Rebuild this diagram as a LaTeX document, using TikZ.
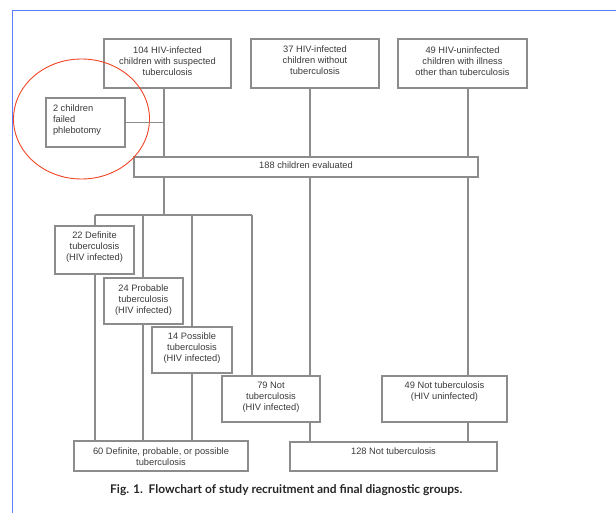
\documentclass[tikz,border=0pt]{standalone}
\usepackage{fontspec}
\setmainfont{Liberation Sans}
\newfontfamily\capfont{Lato}
\usepackage{graphicx}
\definecolor{linegray}{HTML}{8C8C8C}
\definecolor{textgray}{HTML}{3A3A3A}
\definecolor{frameblue}{HTML}{5C7CFF}
\definecolor{circred}{HTML}{F04424}
\newcommand\bt[4][6]{\parbox[c][#3pt][t]{#2pt}{\centering\vspace*{#1pt}\rule{0pt}{7pt}#4}}
\newcommand\btl[4][7]{\parbox[c][#3pt][t]{#2pt}{\raggedright\leftskip=7pt\vspace*{#1pt}\rule{0pt}{7pt}#4}}
\tikzset{
  bx/.style={draw=linegray, line width=1.1pt, inner sep=0pt, outer sep=0pt, anchor=north west,
    text=textgray, font=\fontsize{9.3}{11}\selectfont},
  ln/.style={draw=linegray, line width=1.1pt},
}
\begin{document}
\begin{tikzpicture}[x=1pt,y=-1pt]
\useasboundingbox (0,0) rectangle (616,513);
% frame
\draw[frameblue, line width=1.6pt] (616,10.5) -- (12.5,10.5) -- (12.5,513);
% top boxes
\node[bx] (A) at (104,39) {\bt[7.5]{127}{49}{104 HIV-infected\\children with suspected\\tuberculosis}};
\node[bx] (B) at (251,39) {\bt[7]{128}{49}{37 HIV-infected\\children without\\tuberculosis}};
\node[bx] (C) at (398,39) {\bt[7.5]{129}{49}{49 HIV-uninfected\\children with illness\\other than tuberculosis}};
\node[bx] (P) at (46,98) {\btl[7]{79}{49}{2 children\\failed\\phlebotomy}};
\node[bx] (E) at (134,157) {\bt[5]{344}{20}{188 children evaluated}};
% diagnostic boxes
\node[bx] (D22) at (55,226) {\bt{79}{48}{22 Definite\\tuberculosis\\(HIV infected)}};
\node[bx] (D24) at (104,278) {\bt{79}{46}{24 Probable\\tuberculosis\\(HIV infected)}};
\node[bx] (D14) at (152,327) {\bt[5.5]{80}{46}{14 Possible\\tuberculosis\\(HIV infected)}};
\node[bx] (N79) at (222,376) {\bt[5.5]{98}{46}{79 Not\\tuberculosis\\(HIV infected)}};
\node[bx] (N49) at (382,376) {\bt[5.5]{125}{46}{49 Not tuberculosis\\(HIV uninfected)}};
\node[bx] (F60) at (74,441) {\bt[6]{174}{30}{60 Definite, probable, or possible\\tuberculosis}};
\node[bx] (T128) at (290,442) {\bt[5.5]{207}{29}{128 Not tuberculosis}};
% caption
\node[anchor=west, inner sep=0pt, text=black!85] (cap) at (110,490)
  {\resizebox{352pt}{!}{\capfont\bfseries Fig. 1.\ \ Flowchart of study recruitment and final diagnostic groups.}};
% red circle
\draw[circred, line width=0.9pt] (81.5,119) ellipse [x radius=68pt, y radius=60pt];
% connector positions
\coordinate (xA) at (164,0);
\coordinate (xB) at (310,0);
\coordinate (xC) at (468,0);
\coordinate (xL) at (252,0);
\coordinate (J) at (164,215);
\coordinate (Jl) at (95,215);
\coordinate (Jm) at (143,215);
\coordinate (Jn) at (192,215);
\coordinate (Jr) at (252,215);
% connectors
\draw[ln] (A.south -| xA) -- (E.north -| xA);
\draw[ln] (P.east) -- (P.east -| xA);
\draw[ln] (B.south -| xB) -- (E.north -| xB);
\draw[ln] (C.south -| xC) -- (E.north -| xC);
\draw[ln] (E.south -| xA) -- (J);
\draw[ln] (Jl) -- (Jr);
\draw[ln] (Jl) -- (D22.north -| Jl);
\draw[ln] (D22.south -| Jl) -- (F60.north -| Jl);
\draw[ln] (Jm) -- (D24.north -| Jm);
\draw[ln] (D24.south -| Jm) -- (F60.north -| Jm);
\draw[ln] (Jn) -- (D14.north -| Jn);
\draw[ln] (D14.south -| Jn) -- (F60.north -| Jn);
\draw[ln] (Jr) -- (N79.north -| Jr);
\draw[ln] (E.south -| xB) -- (N79.north -| xB);
\draw[ln] (E.south -| xC) -- (N49.north -| xC);
\draw[ln] (N79.south -| xB) -- (T128.north -| xB);
\draw[ln] (N49.south -| xC) -- (T128.north -| xC);
\end{tikzpicture}
\end{document}
